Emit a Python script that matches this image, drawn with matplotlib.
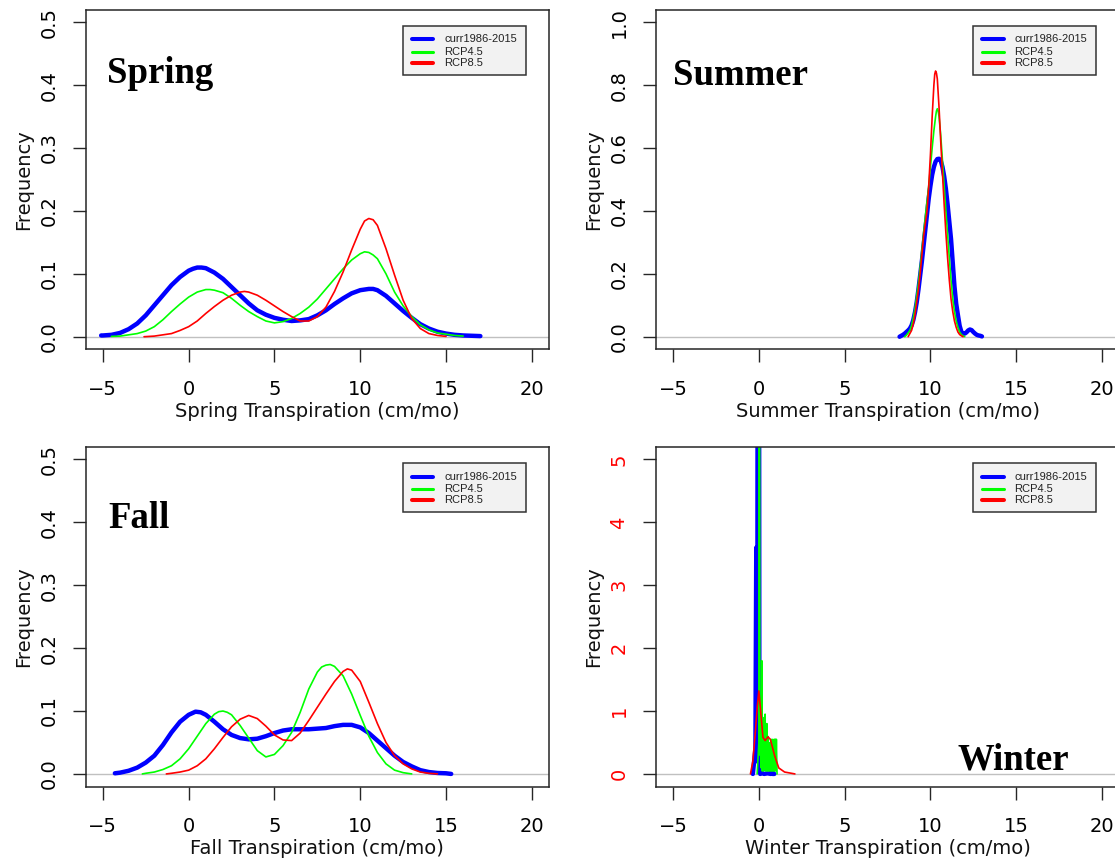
import matplotlib
matplotlib.use("Agg")
import matplotlib.pyplot as plt
from matplotlib.patches import Rectangle
from matplotlib.lines import Line2D

# ---------------- data ----------------
series_names = ["curr1986-2015", "RCP4.5", "RCP8.5"]
series_colors = ["#0000FF", "#00FF00", "#FF0000"]

# Spring
spring_blue_x = [-5.1, -5, -4.5, -4, -3.5, -3, -2.5, -2, -1.5, -1, -0.5, 0, 0.25, 0.5, 0.75, 1, 1.5, 2, 2.5, 3,
                 3.5, 4, 4.5, 5, 5.5, 6, 6.5, 7, 7.5, 8, 8.5, 9, 9.5, 10, 10.25, 10.5, 10.75, 11, 11.5, 12, 12.5,
                 13, 13.5, 14, 14.5, 15, 15.5, 16, 16.5, 17]
spring_blue_y = [0.002, 0.002, 0.003, 0.006, 0.012, 0.021, 0.034, 0.050, 0.066, 0.082, 0.095, 0.105, 0.108, 0.110,
                 0.110, 0.109, 0.102, 0.092, 0.079, 0.066, 0.053, 0.042, 0.035, 0.030, 0.027, 0.025, 0.026, 0.028,
                 0.034, 0.042, 0.052, 0.061, 0.069, 0.074, 0.075, 0.076, 0.076, 0.074, 0.065, 0.053, 0.041,
                 0.030, 0.020, 0.013, 0.008, 0.005, 0.003, 0.002, 0.0015, 0.001]
spring_green_x = [-4.5, -4, -3.5, -3, -2.5, -2, -1.5, -1, -0.5, 0, 0.5, 1, 1.25, 1.5, 2, 2.5, 3, 3.5, 4, 4.5, 5,
                  5.5, 6, 6.5, 7, 7.5, 8, 8.5, 9, 9.5, 10, 10.25, 10.5, 10.75, 11, 11.5, 12, 12.5, 13, 13.5, 14,
                  14.5, 15, 15.5, 16]
spring_green_y = [0.0005, 0.001, 0.003, 0.005, 0.009, 0.016, 0.027, 0.040, 0.052, 0.063, 0.071, 0.075, 0.075,
                  0.074, 0.070, 0.061, 0.050, 0.040, 0.032, 0.025, 0.022, 0.024, 0.029, 0.037, 0.047, 0.060,
                  0.076, 0.092, 0.108, 0.122, 0.132, 0.135, 0.134, 0.130, 0.124, 0.100, 0.071, 0.049, 0.032,
                  0.019, 0.011, 0.006, 0.004, 0.002, 0.001]
spring_red_x = [-2.6, -2, -1.5, -1, -0.5, 0, 0.5, 1, 1.5, 2, 2.5, 3, 3.25, 3.5, 4, 4.5, 5, 5.5, 6, 6.5, 7, 7.5,
                8, 8.5, 9, 9.5, 10, 10.25, 10.5, 10.75, 11, 11.5, 12, 12.5, 13, 13.5, 14, 14.5, 15]
spring_red_y = [0.0, 0.001, 0.003, 0.005, 0.010, 0.016, 0.025, 0.037, 0.048, 0.058, 0.066, 0.071, 0.072, 0.071,
                0.066, 0.058, 0.049, 0.040, 0.032, 0.025, 0.025, 0.032, 0.047, 0.072, 0.103, 0.138, 0.171,
                0.184, 0.188, 0.186, 0.177, 0.140, 0.098, 0.058, 0.029, 0.013, 0.005, 0.002, 0.0005]

# Summer
summer_blue_x = [8.2, 8.3, 8.4, 8.5, 8.6, 8.7, 8.8, 8.9, 9.0, 9.1, 9.2, 9.3, 9.4, 9.5, 9.6, 9.7, 9.8, 9.9, 10.0,
                 10.1, 10.2, 10.3, 10.4, 10.5, 10.6, 10.7, 10.8, 10.9, 11.0, 11.1, 11.2, 11.3, 11.4, 11.5, 11.6,
                 11.7, 11.8, 11.9, 12.0, 12.1, 12.2, 12.3, 12.4, 12.5, 12.6, 12.7, 12.8, 12.9, 13.0]
summer_blue_y = [0.0, 0.003, 0.006, 0.01, 0.015, 0.02, 0.026, 0.036, 0.053, 0.078, 0.11, 0.15, 0.195, 0.24, 0.29,
                 0.34, 0.39, 0.44, 0.48, 0.515, 0.54, 0.557, 0.565, 0.566, 0.56, 0.54, 0.51, 0.47, 0.42, 0.365,
                 0.31, 0.235, 0.16, 0.105, 0.069, 0.035, 0.016, 0.01, 0.01, 0.014, 0.02, 0.023, 0.021, 0.015,
                 0.01, 0.006, 0.004, 0.003, 0.001]
summer_green_x = [8.5, 8.6, 8.7, 8.8, 8.9, 9.0, 9.1, 9.2, 9.3, 9.4, 9.5, 9.6, 9.7, 9.8, 9.9, 10.0, 10.1, 10.2,
                  10.3, 10.35, 10.4, 10.45, 10.5, 10.6, 10.7, 10.8, 10.9, 11.0, 11.1, 11.2, 11.3, 11.4, 11.5,
                  11.6, 11.7, 11.8, 11.9, 12.0]
summer_green_y = [0.0, 0.005, 0.012, 0.02, 0.035, 0.06, 0.09, 0.13, 0.17, 0.22, 0.275, 0.33, 0.38, 0.43, 0.48,
                  0.54, 0.60, 0.655, 0.70, 0.718, 0.725, 0.718, 0.70, 0.64, 0.56, 0.48, 0.40, 0.325, 0.25, 0.18,
                  0.12, 0.08, 0.05, 0.03, 0.015, 0.007, 0.003, 0.0]
summer_red_x = [8.7, 8.8, 8.9, 9.0, 9.1, 9.2, 9.3, 9.4, 9.5, 9.6, 9.7, 9.8, 9.9, 10.0, 10.1, 10.2, 10.25, 10.3,
                10.35, 10.4, 10.5, 10.6, 10.7, 10.8, 10.9, 11.0, 11.1, 11.2, 11.3, 11.4, 11.5, 11.6, 11.7, 11.8,
                11.9]
summer_red_y = [0.0, 0.01, 0.02, 0.04, 0.07, 0.11, 0.15, 0.20, 0.26, 0.32, 0.36, 0.40, 0.48, 0.58, 0.70, 0.80,
                0.835, 0.845, 0.838, 0.82, 0.73, 0.62, 0.52, 0.42, 0.33, 0.25, 0.18, 0.12, 0.08, 0.05, 0.03,
                0.015, 0.007, 0.003, 0.0]

# Fall
fall_blue_x = [-4.3, -4, -3.5, -3, -2.5, -2, -1.5, -1, -0.5, 0, 0.4, 0.7, 1, 1.5, 2, 2.5, 3, 3.5, 4, 4.5, 5,
               5.5, 6, 6.5, 7, 7.5, 8, 8.5, 9, 9.5, 10, 10.5, 11, 11.5, 12, 12.5, 13, 13.5, 14, 14.5, 15, 15.3]
fall_blue_y = [0.001, 0.002, 0.005, 0.010, 0.018, 0.029, 0.046, 0.066, 0.083, 0.094, 0.099, 0.098, 0.094, 0.083,
               0.071, 0.062, 0.057, 0.055, 0.056, 0.060, 0.065, 0.069, 0.071, 0.071, 0.071, 0.072, 0.073,
               0.076, 0.078, 0.078, 0.074, 0.065, 0.053, 0.041, 0.029, 0.019, 0.012, 0.006, 0.003, 0.0015,
               0.001, 0.0]
fall_green_x = [-2.7, -2.5, -2, -1.5, -1, -0.5, 0, 0.5, 1, 1.5, 1.75, 2, 2.25, 2.5, 3, 3.5, 4, 4.5, 5, 5.5, 6,
                6.5, 7, 7.5, 7.75, 8, 8.25, 8.5, 9, 9.5, 10, 10.5, 11, 11.5, 12, 12.5, 13]
fall_green_y = [0.0, 0.001, 0.003, 0.007, 0.013, 0.024, 0.040, 0.060, 0.080, 0.095, 0.099, 0.100, 0.098, 0.094,
                0.077, 0.057, 0.037, 0.027, 0.031, 0.045, 0.066, 0.098, 0.135, 0.162, 0.170, 0.173, 0.174,
                0.171, 0.156, 0.127, 0.093, 0.060, 0.034, 0.016, 0.006, 0.002, 0.0]
fall_red_x = [-1.3, -1, -0.5, 0, 0.5, 1, 1.5, 2, 2.5, 3, 3.5, 4, 4.5, 5, 5.5, 6, 6.5, 7, 7.5, 8, 8.5, 9, 9.25,
              9.5, 10, 10.5, 11, 11.5, 12, 12.5, 13, 13.5, 14, 14.5]
fall_red_y = [0.0, 0.001, 0.003, 0.006, 0.013, 0.024, 0.040, 0.058, 0.075, 0.087, 0.093, 0.088, 0.076, 0.062,
              0.054, 0.053, 0.065, 0.085, 0.106, 0.127, 0.147, 0.163, 0.167, 0.165, 0.147, 0.114, 0.080, 0.050,
              0.029, 0.016, 0.008, 0.003, 0.001, 0.0]

# Winter
winter_blue_x = [-0.35, -0.2, -0.15, -0.12, -0.09, -0.06, -0.03, 0.0, 0.03, 0.08, 0.15, 0.3, 0.5, 0.7, 0.75, 0.8, 0.9]
winter_blue_y = [0.0, 0.4, 3.6, 1.2, 0.2, 12.0, 12.0, 12.0, 0.3, 0.0, 0.02, 0.0, 0.01, 0.0, 0.16, 0.0, 0.0]
winter_green_x = [-0.1, 0.0, 0.03, 0.06, 0.09, 0.12, 0.15, 0.17, 0.19, 0.215, 0.24, 0.265, 0.29, 0.315, 0.34,
                  0.365, 0.39, 0.415, 0.44, 0.465, 0.49, 0.515, 0.54, 0.565, 0.59, 0.615, 0.64, 0.665, 0.69,
                  0.715, 0.74, 0.765, 0.79, 0.815, 0.84, 0.865, 0.89, 0.915, 0.94, 0.965, 0.99, 1.02, 1.06]
winter_green_y = [0.0, 0.5, 12.0, 0.3, 0.6, 0.1, 0.5, 1.8, 0.05, 0.6, 0.05, 0.55, 0.05, 0.9, 0.1, 0.95, 0.05,
                  0.7, 0.05, 0.8, 0.05, 0.6, 0.05, 0.5, 0.05, 0.45, 0.05, 0.5, 0.05, 0.55, 0.05, 0.45, 0.05,
                  0.55, 0.05, 0.5, 0.05, 0.55, 0.05, 0.55, 0.05, 0.55, 0.0]
winter_red_x = [-0.49, -0.35, -0.2, -0.1, 0.0, 0.24, 0.37, 0.53, 0.67, 0.92, 1.16, 1.5, 2.1]
winter_red_y = [0.0, 0.2, 0.68, 1.05, 1.32, 0.58, 0.53, 0.59, 0.55, 0.29, 0.095, 0.03, 0.0]

x_ticks = [-5, 0, 5, 10, 15, 20]
seasons = ["Spring", "Summer", "Fall", "Winter"]
y_ticks = {
    "Spring": [0.0, 0.1, 0.2, 0.3, 0.4, 0.5],
    "Summer": [0.0, 0.2, 0.4, 0.6, 0.8, 1.0],
    "Fall": [0.0, 0.1, 0.2, 0.3, 0.4, 0.5],
    "Winter": [0, 1, 2, 3, 4, 5],
}
y_tick_labels = {
    "Spring": ["0.0", "0.1", "0.2", "0.3", "0.4", "0.5"],
    "Summer": ["0.0", "0.2", "0.4", "0.6", "0.8", "1.0"],
    "Fall": ["0.0", "0.1", "0.2", "0.3", "0.4", "0.5"],
    "Winter": ["0", "1", "2", "3", "4", "5"],
}
curves = {
    "Spring": [(spring_blue_x, spring_blue_y), (spring_green_x, spring_green_y), (spring_red_x, spring_red_y)],
    "Summer": [(summer_blue_x, summer_blue_y), (summer_green_x, summer_green_y), (summer_red_x, summer_red_y)],
    "Fall": [(fall_blue_x, fall_blue_y), (fall_green_x, fall_green_y), (fall_red_x, fall_red_y)],
    "Winter": [(winter_blue_x, winter_blue_y), (winter_green_x, winter_green_y), (winter_red_x, winter_red_y)],
}
title_pos = {"Spring": (-4.73, 0.403), "Summer": (-5.0, 0.80), "Fall": (-4.69, 0.391), "Winter": (11.56, 0.07)}
y_max = {"Spring": 0.5, "Summer": 1.0, "Fall": 0.5, "Winter": 5.0}

# ---------------- figure ----------------
plt.rcParams["font.family"] = ["DejaVu Sans"]
fig = plt.figure(figsize=(11.15, 8.61), dpi=100)

W, H = 1115.0, 861.0
ax_w = 463.3 / W
ax_h = 339.6 / H
lefts = [85.7 / W, 655.9 / W]
bottoms = [1 - 349.3 / H, 1 - 786.5 / H]
positions = [(lefts[0], bottoms[0]), (lefts[1], bottoms[0]), (lefts[0], bottoms[1]), (lefts[1], bottoms[1])]

spine_col = "#262626"
lws = [3.2, 1.2, 1.2]
fs = 14


def draw_legend(ax):
    x0, x1, y0, y1 = 0.684, 0.950, 0.8077, 0.952
    ax.add_patch(Rectangle((x0, y0), x1 - x0, y1 - y0, transform=ax.transAxes,
                           facecolor="#f2f2f2", edgecolor="#333333", lw=1.1, zorder=5, clip_on=False))
    rows = [0.9128, 0.8763, 0.8439]
    leg_lw = [2.9, 2.2, 2.9]
    for name, col, yy, lw in zip(series_names, series_colors, rows, leg_lw):
        ax.add_line(Line2D([0.7037, 0.7503], [yy, yy], transform=ax.transAxes, color=col, lw=lw,
                           solid_capstyle="round", zorder=6))
        ax.text(0.7734, yy, name, transform=ax.transAxes, fontsize=8, va="center", ha="left",
                color="#222222", zorder=6, family=["Liberation Sans", "DejaVu Sans"])


for season, (l, b) in zip(seasons, positions):
    ax = fig.add_axes([l, b, ax_w, ax_h])
    ym = y_max[season]
    ax.set_xlim(-6, 21)
    ax.set_ylim(-0.04 * ym, 1.04 * ym)
    ax.axhline(0, color="#c0c0c0", lw=1.0, zorder=1)
    for (xs, ys), col, lw in zip(curves[season], series_colors, lws):
        ax.plot(xs, ys, color=col, lw=lw, solid_joinstyle="round", solid_capstyle="round", zorder=2)
    ax.set_xticks(x_ticks)
    ax.set_xticklabels([str(t) if t >= 0 else "\u2212" + str(-t) for t in x_ticks], fontsize=fs)
    ax.set_yticks(y_ticks[season])
    ax.set_yticklabels(y_tick_labels[season], fontsize=fs, rotation=90, va="center")
    ax.tick_params(axis="both", direction="out", length=9.3, width=1.0, color=spine_col)
    ax.tick_params(axis="x", pad=13)
    ax.tick_params(axis="y", pad=10.4)
    if season == "Winter":
        for t in ax.get_yticklabels():
            t.set_color("#FF0000")
    for sp in ax.spines.values():
        sp.set_color(spine_col)
        sp.set_linewidth(1.1)
    ax.set_xlabel(f"{season} Transpiration (cm/mo)", fontsize=fs, labelpad=1.9, color="#111111")
    ax.set_ylabel("Frequency", fontsize=fs, labelpad=4.7, color="#111111")
    tx, ty = title_pos[season]
    ax.text(tx, ty, season, fontsize=26.5, fontweight="bold", family=["Liberation Serif", "DejaVu Serif"],
            ha="left", va="baseline", zorder=4)
    draw_legend(ax)

fig.savefig("out.png", dpi=100)
